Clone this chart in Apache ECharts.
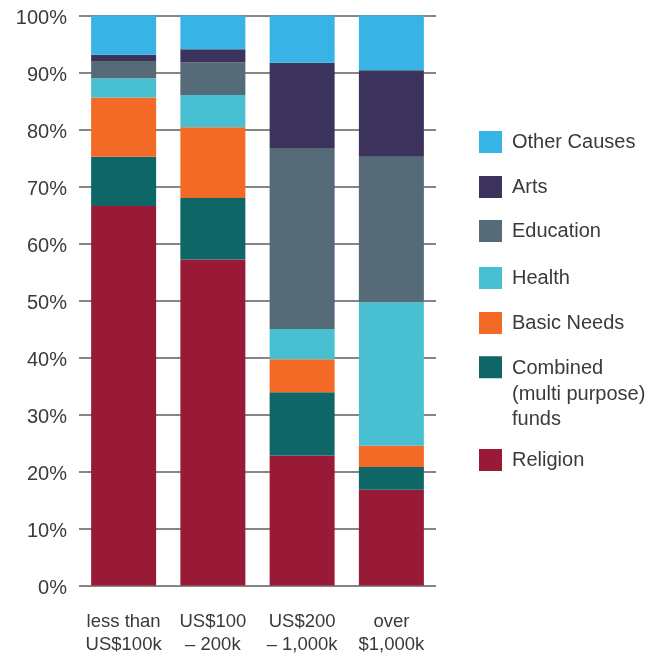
<!DOCTYPE html>
<html><head><meta charset="utf-8">
<script src="https://cdn.jsdelivr.net/npm/echarts@6/dist/echarts.min.js"></script>
<style>html,body{margin:0;padding:0;background:#fff}#c{width:661px;height:655px}</style>
</head><body><div id="c"></div>
<script>
const categories = ['less than\nUS$100k', 'US$100\n– 200k', 'US$200\n– 1,000k', 'over\n$1,000k'];
const religion  = [66.6, 57.2, 22.8, 16.8];
const combined  = [8.6, 10.8, 11.1, 4.0];
const basicNeeds= [10.4, 12.4, 5.8, 3.7];
const health    = [3.4, 5.65, 5.3, 25.2];
const education = [3.0, 5.75, 31.75, 25.5];
const arts      = [1.1, 2.3, 14.95, 15.2];
const other     = [6.9, 5.9, 8.3, 9.6];
const yTicks = [0,10,20,30,40,50,60,70,80,90,100];

const seriesDefs = [
  {name:'Religion', data:religion, color:'#981a37'},
  {name:'Combined\n(multi purpose)\nfunds', data:combined, color:'#0f6667'},
  {name:'Basic Needs', data:basicNeeds, color:'#f26a25'},
  {name:'Health', data:health, color:'#48c0d1'},
  {name:'Education', data:education, color:'#556b78'},
  {name:'Arts', data:arts, color:'#3b335c'},
  {name:'Other Causes', data:other, color:'#38b3e6'}
];
const font = 'Liberation Sans, Arial, sans-serif';
const legendTops = {'Other Causes':131,'Arts':176,'Education':220,'Health':267,'Basic Needs':312,'Combined\n(multi purpose)\nfunds':356,'Religion':449};

const legends = seriesDefs.map(s => {
  const multi = s.name.indexOf('\n')>=0;
  const h = multi ? 76 : 22;
  // square 23x22 at top-left of a transparent box 28 x h
  const icon = 'path://M0,0L23,0L23,22L0,22Z M27.9,' + h + 'L28,' + h;
  return {
    data:[{name:s.name, icon:icon}], orient:'vertical', left:479, top:legendTops[s.name],
    itemWidth:28, itemHeight:h, selectedMode:false, padding:0, itemGap:0,
    textStyle:{fontFamily:font, fontSize:20, color:'#3a3a3a', lineHeight: multi?25.5:22}
  };
});

const chart = echarts.init(document.getElementById('c'));
chart.setOption({
  animation:false,
  grid:{left:79, right:225, top:15.5, bottom:69.5, containLabel:false, outerBoundsMode:'none'},
  legend: legends,
  xAxis:{type:'category', data:categories,
    axisLine:{show:false}, axisTick:{show:false},
    axisLabel:{fontFamily:font, fontSize:18.5, color:'#3a3a3a', lineHeight:23, margin:25, interval:0}},
  yAxis:{type:'value', min:0, max:100, interval:10,
    axisLine:{show:false}, axisTick:{show:false},
    axisLabel:{fontFamily:font, fontSize:20, color:'#3a3a3a', margin:12,
      formatter: v => yTicks.indexOf(v)>=0 ? '{a|' + v + '%}' : '',
      rich:{a:{fontFamily:font, fontSize:20, color:'#3a3a3a', padding:[5,0,0,0]}}},
    splitLine:{show:true, lineStyle:{color:'#858585', width:2}}},
  series: seriesDefs.map(s => ({
    name:s.name, type:'bar', stack:'total', data:s.data, barWidth:65,
    itemStyle:{color:s.color}
  }))
});
</script></body></html>
